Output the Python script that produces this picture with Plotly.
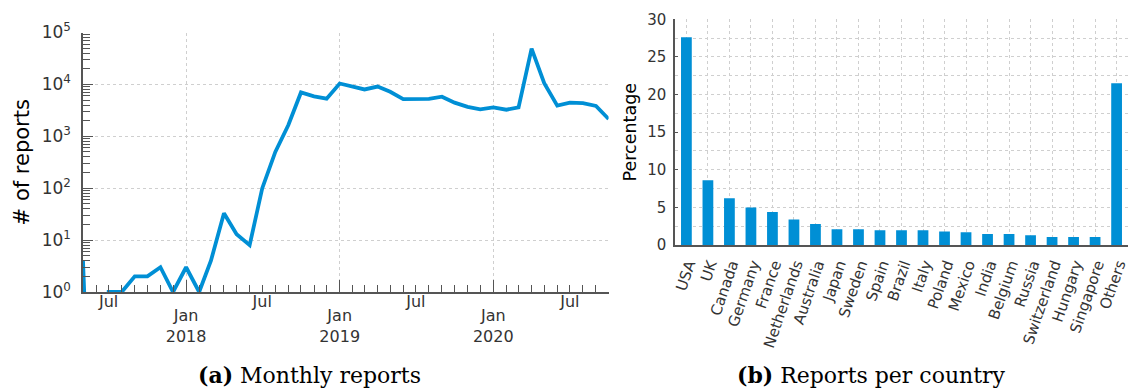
import pandas as pd
import plotly.graph_objects as go

# ---- data -------------------------------------------------------------
months = pd.date_range("2017-05-01", "2020-10-01", freq="MS")
monthly_reports = [
    4, 0, 1, 1, 2, 2, 3, 1,                                          # 2017 May-Dec
    3, 1, 4, 33, 13, 8, 100, 500, 1650, 7000, 5900, 5300,             # 2018
    10400, 9000, 8000, 9100, 7200, 5200, 5200, 5250, 5800, 4450, 3700, 3300,  # 2019
    3600, 3250, 3600, 49000, 10600, 3900, 4450, 4350, 3850, 2150,     # 2020 Jan-Oct
]

countries = ["USA", "UK", "Canada", "Germany", "France", "Netherlands", "Australia",
             "Japan", "Sweden", "Spain", "Brazil", "Italy", "Poland", "Mexico", "India",
             "Belgium", "Russia", "Switzerland", "Hungary", "Singapore", "Others"]
country_share = [27.6, 8.6, 6.2, 5.0, 4.4, 3.4, 2.8, 2.1, 2.1, 1.95, 1.95, 1.95, 1.8,
                 1.7, 1.45, 1.45, 1.3, 1.05, 1.05, 1.05, 21.5]

decade_ticks = [1, 10, 100, 1000, 10000, 100000]
decade_labels = ["10<sup>0</sup>", "10<sup>1</sup>", "10<sup>2</sup>",
                 "10<sup>3</sup>", "10<sup>4</sup>", "10<sup>5</sup>"]
jan_ticks = ["2018-01-01", "2019-01-01", "2020-01-01"]
jan_labels = ["Jan<br>2018", "Jan<br>2019", "Jan<br>2020"]
jul_ticks = ["2017-07-01", "2018-07-01", "2019-07-01", "2020-07-01"]
jul_labels = ["Jul", "Jul", "Jul", "Jul"]

# ---- styling ------------------------------------------------------------
W, H = 1130, 388
BLUE = "#008fd5"
AXIS = "#555555"
GRID = "#cfcfcf"
TICKTXT = "#333333"
SANS = "DejaVu Sans"
SERIF = "DejaVu Serif"


def fx(px):
    return px / W


def fy(py):
    return (H - py) / H


# months with no reports cannot sit on a log axis; push them far below the
# visible range so the line drops straight out of the frame
plot_reports = [v if v > 0 else 1e-6 for v in monthly_reports]

fig = go.Figure()
fig.add_trace(go.Scatter(
    x=months, y=plot_reports, mode="lines",
    line=dict(color=BLUE, width=3.8), xaxis="x", yaxis="y",
    showlegend=False, hoverinfo="skip",
))
# invisible companion trace so the Jul label axis is drawn
fig.add_trace(go.Scatter(
    x=months, y=plot_reports, mode="lines", line=dict(width=0),
    xaxis="x3", yaxis="y", showlegend=False, hoverinfo="skip", opacity=0,
))
fig.add_trace(go.Bar(
    x=countries, y=country_share, marker=dict(color=BLUE, line=dict(width=0)),
    width=0.5, xaxis="x2", yaxis="y2", showlegend=False,
))

fig.update_layout(
    width=W, height=H,
    margin=dict(l=0, r=0, t=0, b=0),
    paper_bgcolor="white", plot_bgcolor="white",
    font=dict(family=SANS, color=TICKTXT),
    xaxis=dict(
        type="date", domain=[fx(83), fx(608.6)], automargin=False,
        range=["2017-05-01", "2020-10-01"],
        tickvals=jan_ticks, ticktext=jan_labels,
        tickfont=dict(size=16, color=TICKTXT),
        ticks="inside", ticklen=12, tickcolor=AXIS, tickwidth=1,
        ticklabelstandoff=8,
        showline=True, linecolor=AXIS, linewidth=1.5,
        showgrid=True, gridcolor=GRID, griddash="3px,3px", gridwidth=1,
        zeroline=False, anchor="y",
        minor=dict(dtick="M1", tick0="2017-05-01", ticks="inside", ticklen=7,
                   tickcolor=AXIS, showgrid=False),
    ),
    xaxis3=dict(
        type="date", overlaying="x", matches="x", anchor="y", automargin=False,
        tickvals=jul_ticks, ticktext=jul_labels,
        tickfont=dict(size=16, color=TICKTXT),
        ticks="", showline=False, showgrid=False, zeroline=False,
        ticklabelstandoff=-2,
    ),
    yaxis=dict(
        type="log", domain=[fy(292), fy(32.5)], range=[0, 5], automargin=False,
        tickvals=decade_ticks, ticktext=decade_labels,
        tickfont=dict(size=17, color=TICKTXT),
        ticks="inside", ticklen=10, tickcolor=AXIS,
        ticklabelstandoff=7,
        showline=True, linecolor=AXIS, linewidth=1.5,
        showgrid=True, gridcolor=GRID, griddash="3px,3px", gridwidth=1,
        zeroline=False, anchor="x",
        title=dict(text="# of reports", font=dict(size=21, color="black"), standoff=6),
        minor=dict(dtick="D1", ticks="inside", ticklen=7, tickcolor=AXIS, showgrid=False),
    ),
    xaxis2=dict(
        type="category", domain=[fx(675), fx(1128)], range=[-0.53, 20.53],
        automargin=False,
        tickfont=dict(size=15, color=TICKTXT), tickangle=-71,
        ticklabelshift=2, ticklabelstandoff=3,
        ticks="", showline=True, linecolor=AXIS, linewidth=1.5,
        showgrid=True, gridcolor=GRID, griddash="3px,3px", gridwidth=1,
        zeroline=False, anchor="y2",
    ),
    yaxis2=dict(
        domain=[fy(245), fy(19.3)], range=[0, 30], dtick=5, automargin=False,
        tickfont=dict(size=15, color=TICKTXT),
        ticks="inside", ticklen=3, tickcolor=AXIS,
        ticklabelstandoff=4,
        showline=True, linecolor=AXIS, linewidth=1.5,
        showgrid=True, gridcolor=GRID, griddash="3px,3px", gridwidth=1,
        zeroline=False, anchor="x2",
        title=dict(text="Percentage", font=dict(size=17.5, color="black"), standoff=6),
        minor=dict(dtick=2.5, showgrid=True, gridcolor=GRID, griddash="3px,3px",
                   ticks=""),
    ),
    annotations=[
        dict(text="<b>(a)</b> Monthly reports", x=fx(309.4), y=fy(374.5),
             xref="paper", yref="paper", showarrow=False,
             xanchor="center", yanchor="middle",
             font=dict(family=SERIF, size=22, color="black")),
        dict(text="<b>(b)</b> Reports per country", x=fx(871.7), y=fy(374.5),
             xref="paper", yref="paper", showarrow=False,
             xanchor="center", yanchor="middle",
             font=dict(family=SERIF, size=22, color="black")),
    ],
)

fig.write_html("out.html")
